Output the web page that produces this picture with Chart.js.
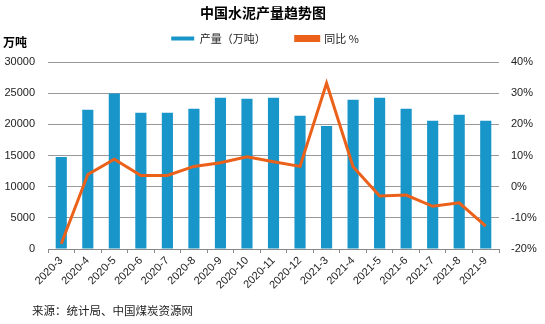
<!DOCTYPE html>
<html>
<head>
<meta charset="utf-8">
<script src="https://cdn.jsdelivr.net/npm/chart.js@4/dist/chart.umd.min.js"></script>
<style>
  html, body { margin: 0; padding: 0; background: #fff; }
  #wrap { width: 545px; height: 324px; position: relative; }
</style>
</head>
<body>
<div id="wrap"><canvas id="cement_chart"></canvas></div>
<script>
// 月份
var months = ['2020-3', '2020-4', '2020-5', '2020-6', '2020-7', '2020-8', '2020-9', '2020-10',
    '2020-11', '2020-12', '2021-3', '2021-4', '2021-5', '2021-6', '2021-7', '2021-8', '2021-9'];
// 产量（万吨）
var output = [14760, 22330, 24960, 21840, 21840, 22490, 24260, 24100,
    24260, 21360, 19750, 23940, 24260, 22490, 20560, 21520, 20560];
// 同比 %
var yoy = [-18.3, 3.9, 8.8, 3.6, 3.6, 6.5, 7.7, 9.6,
    8.0, 6.5, 33.2, 6.4, -3.0, -2.7, -6.3, -5.2, -12.7];

var leftTicks = { min: 0, max: 30000, step: 5000 };
var rightTicks = { min: -20, max: 40, step: 10 };

var titleText = '中国水泥产量趋势图';
var unitText = '万吨';
var sourceText = '来源：统计局、中国煤炭资源网';

var barColor = '#1996c9';
var lineColor = '#ec6119';
var cjk = '"Noto Sans CJK SC", sans-serif';
var num = '"Liberation Sans", Arial, sans-serif';
var legendHeight = 59;

var extraText = {
    id: 'extraText',
    beforeLayout: function (chart) {
        var lg = chart.legend;
        if (lg && !lg._patched) {
            var fit = lg.fit;
            lg.fit = function () {
                fit.call(this);
                this.height = legendHeight;
            };
            lg._patched = true;
        }
    },
    afterLayout: function (chart) {
        // legend sits a bit left of the middle
        if (chart.legend) chart.legend.right -= 15;
    },
    afterDraw: function (chart) {
        var c = chart.ctx;
        c.save();
        c.fillStyle = '#000';
        c.textBaseline = 'middle';
        c.textAlign = 'center';
        c.font = 'bold 14px ' + cjk;
        c.fillText(titleText, 263, 13);
        c.textAlign = 'left';
        c.font = 'bold 12px ' + cjk;
        c.fillText(unitText, 3, 42);
        c.font = '11.5px ' + cjk;
        c.fillStyle = '#222';
        c.fillText(sourceText, 32, 311);
        c.restore();
    }
};

function InitializeGraph() {
    var ctx = document.getElementById('cement_chart');

    var data = {
        labels: months,
        datasets: [{
            type: 'line',
            label: '同比 %',
            data: yoy,
            yAxisID: 'y2',
            borderColor: lineColor,
            backgroundColor: lineColor,
            borderWidth: 3,
            pointRadius: 0,
            tension: 0,
            order: 0
        }, {
            type: 'bar',
            label: '产量（万吨）',
            data: output,
            yAxisID: 'y',
            backgroundColor: barColor,
            barPercentage: 0.42,
            categoryPercentage: 1,
            order: 1
        }]
    };

    new Chart(ctx, {
        data: data,
        options: {
            responsive: true,
            maintainAspectRatio: false,
            animation: false,
            layout: { padding: { top: 3, left: 0, right: 0, bottom: 0 } },
            plugins: {
                title: { display: false },
                tooltip: { enabled: false },
                legend: {
                    position: 'top',
                    reverse: true,
                    labels: {
                        boxWidth: 23,
                        boxHeight: 4,
                        padding: 30,
                        color: '#222',
                        font: { size: 11, family: cjk }
                    }
                }
            },
            scales: {
                x: {
                    offset: true,
                    grid: { offset: true, drawOnChartArea: false, tickLength: 4, color: '#888' },
                    border: { display: true, color: '#888' },
                    ticks: {
                        minRotation: 45, maxRotation: 45,
                        color: '#222', padding: 1,
                        font: { size: 11, family: num }
                    },
                    afterFit: function (s) { s.height = 75; }
                },
                y: {
                    position: 'left',
                    min: leftTicks.min, max: leftTicks.max,
                    ticks: {
                        stepSize: leftTicks.step, color: '#222', padding: 13,
                        font: { size: 11, family: num },
                        callback: function (v) { return String(v); }
                    },
                    grid: { color: '#999', drawTicks: false },
                    border: { display: false },
                    afterFit: function (s) { s.width = 48; }
                },
                y2: {
                    position: 'right',
                    min: rightTicks.min, max: rightTicks.max,
                    ticks: {
                        stepSize: rightTicks.step, color: '#222', padding: 4,
                        font: { size: 11, family: num },
                        callback: function (v) { return v + '%'; }
                    },
                    grid: { display: false },
                    border: { display: false },
                    afterFit: function (s) { s.width = 46; }
                }
            }
        },
        plugins: [extraText]
    });
}

InitializeGraph();
</script>
</body>
</html>
